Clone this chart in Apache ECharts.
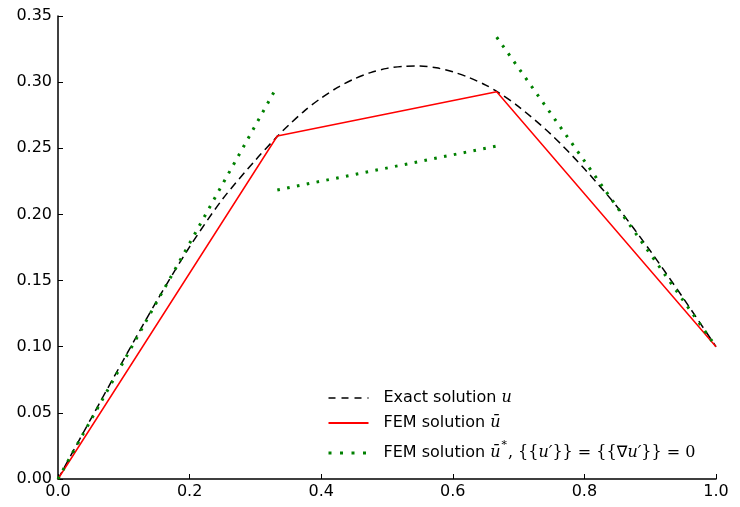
<!DOCTYPE html>
<html>
<head>
<meta charset="utf-8">
<script src="https://cdn.jsdelivr.net/npm/echarts@6/dist/echarts.min.js"></script>
<style>
  html, body { margin: 0; padding: 0; background: #fff; }
  #chart { width: 740px; height: 507px; }
</style>
</head>
<body>
<div id="chart"></div>
<script>
// Exact solution u(x), sampled along [0, 1]
const exactX = [0, 0.05, 0.1, 0.15, 0.2, 0.25, 0.3, 0.3333, 0.35, 0.375, 0.4, 0.425, 0.45, 0.475,
                0.5, 0.525, 0.55, 0.575, 0.6, 0.625, 0.65, 0.6667, 0.7, 0.75, 0.8, 0.85, 0.9, 0.95, 1.0];
const exactU = [0, 0.0455, 0.0905, 0.1345, 0.1755, 0.2115, 0.2410, 0.259, 0.2672, 0.2785, 0.2880, 0.2960, 0.3024, 0.3072,
                0.3104, 0.3120, 0.3122, 0.3108, 0.3078, 0.3034, 0.2978, 0.2930, 0.2815, 0.2602, 0.2345, 0.2056, 0.1725, 0.1369, 0.1];

// Continuous linear FEM solution at the mesh nodes
const nodeX = [0, 0.3333, 0.6667, 1.0];
const femU = [0, 0.2593, 0.2928, 0.1];

// Discontinuous FEM solution: one linear piece per element (left value, right value)
const starLeft = [0, 0.2185, 0.334];
const starRight = [0.297, 0.2517, 0.1];

// Tick values
const xTicks = [0, 0.2, 0.4, 0.6, 0.8, 1.0];
const yTicks = [0, 0.05, 0.10, 0.15, 0.20, 0.25, 0.30, 0.35];

const NAME_EXACT = 'Exact solution u';
const NAME_FEM = 'FEM solution ū';
const NAME_STAR = 'FEM solution ū*';

const pairs = (xs, ys) => xs.map((x, i) => [x, ys[i]]);

const dotted = { color: '#008000', width: 3, type: [2.6, 7.4], cap: 'butt' };

const starSeries = starLeft.map((v, i) => ({
  name: NAME_STAR,
  type: 'line',
  data: [[nodeX[i], v], [nodeX[i + 1], starRight[i]]],
  symbol: 'none',
  color: '#008000',
  lineStyle: dotted,
  z: 4
}));

const chart = echarts.init(document.getElementById('chart'), null, { renderer: 'canvas' });

const font = 'DejaVu Sans';
const serif = 'DejaVu Serif';

chart.setOption({
  animation: false,
  backgroundColor: '#ffffff',
  textStyle: { fontFamily: font },
  grid: { left: 58, right: 24, top: 16, bottom: 28, containLabel: false },
  xAxis: {
    type: 'value',
    min: xTicks[0],
    max: xTicks[xTicks.length - 1],
    interval: 0.2,
    axisLine: { show: true, onZero: false, lineStyle: { color: '#000', width: 1.5 } },
    axisTick: { show: true, inside: true, length: 5, lineStyle: { color: '#000', width: 1 } },
    splitLine: { show: false },
    axisLabel: {
      color: '#000', fontSize: 16, fontFamily: font, margin: 5,
      formatter: v => v.toFixed(1)
    }
  },
  yAxis: {
    type: 'value',
    min: yTicks[0],
    max: yTicks[yTicks.length - 1],
    interval: 0.05,
    axisLine: { show: true, onZero: false, lineStyle: { color: '#000', width: 1.5 } },
    axisTick: { show: true, inside: true, length: 5, lineStyle: { color: '#000', width: 1 } },
    splitLine: { show: false },
    axisLabel: {
      color: '#000', fontSize: 16, fontFamily: font, margin: 6,
      formatter: v => v.toFixed(2)
    }
  },
  legend: {
    orient: 'vertical',
    left: 322,
    top: 383,
    itemWidth: 40,
    itemHeight: 14,
    itemGap: 5,
    itemStyle: { opacity: 0 },
    data: [
      { name: NAME_EXACT, lineStyle: { width: 1.5, type: [7, 6] } },
      { name: NAME_FEM },
      { name: NAME_STAR, lineStyle: { width: 3, type: [3, 8.5] } }
    ],
    textStyle: {
      color: '#000', fontSize: 16, fontFamily: serif, lineHeight: 20,
      padding: [0, 0, 0, 10],
      rich: {
        t: { fontSize: 16, fontFamily: font, color: '#000', lineHeight: 20 },
        m: { fontSize: 16, fontFamily: serif, fontStyle: 'italic', color: '#000', lineHeight: 20 },
        T: { fontSize: 16, fontFamily: font, color: '#000', lineHeight: 30 },
        M: { fontSize: 16, fontFamily: serif, fontStyle: 'italic', color: '#000', lineHeight: 30 },
        S: { fontSize: 11, fontFamily: serif, color: '#000', verticalAlign: 'top', lineHeight: 22 }
      }
    },
    formatter: name => {
      if (name === NAME_EXACT) return '{t|Exact solution }{m|u}';
      if (name === NAME_FEM) return '{t|FEM solution }{m|ū}';
      return '{T|FEM solution }{M|ū}{S|∗}, {{{M|u′}}} = {{{T|∇}{M|u′}}} = 0';
    }
  },
  series: [
    {
      name: NAME_EXACT,
      type: 'line',
      data: pairs(exactX, exactU),
      smooth: 0.3,
      symbol: 'none',
      color: '#000',
      lineStyle: { color: '#000', width: 1.5, type: [8, 5] },
      z: 2
    },
    {
      name: NAME_FEM,
      type: 'line',
      data: pairs(nodeX, femU),
      symbol: 'none',
      color: '#ff0000',
      lineStyle: { color: '#ff0000', width: 1.5 },
      z: 3
    },
    ...starSeries
  ]
});
</script>
</body>
</html>
